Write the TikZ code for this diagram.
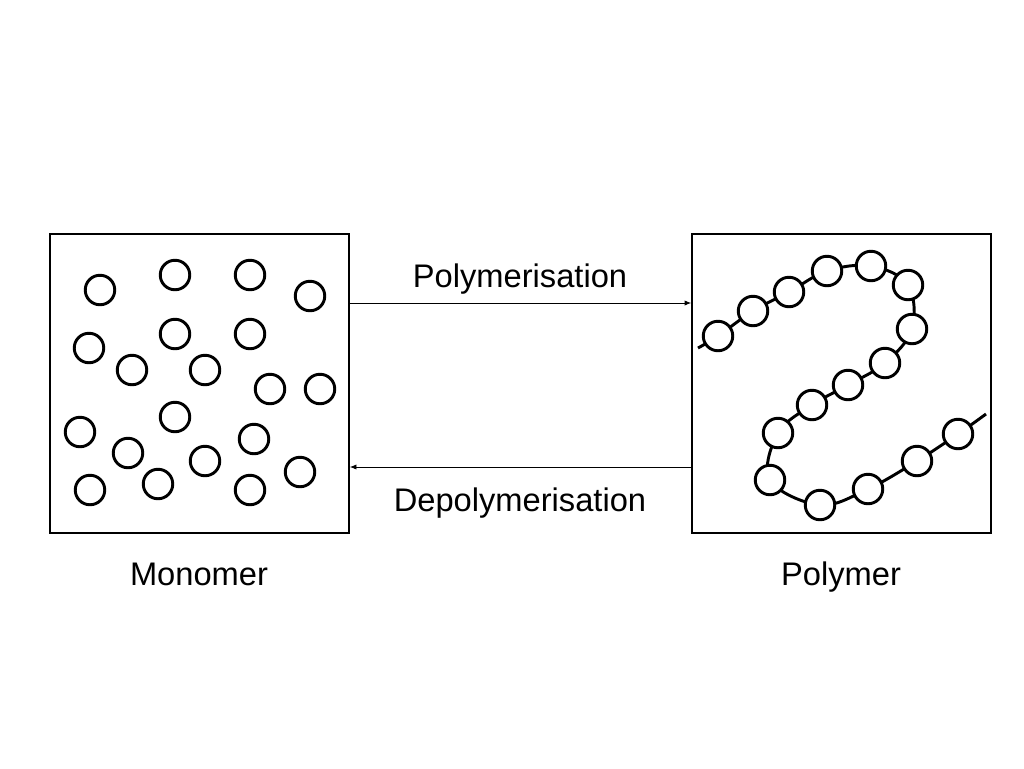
\documentclass[tikz,border=0pt]{standalone}
\usepackage{fontspec}
\setmainfont{Liberation Sans}
\usetikzlibrary{arrows.meta}
\begin{document}
\begin{tikzpicture}[x=0.75pt,y=-0.75pt,
  box/.style={draw,line width=1.2pt},
  mono/.style={draw,circle,line width=2.2pt,minimum size=29.5*0.75pt,inner sep=0pt,fill=white},
  lab/.style={font=\fontsize{24.5}{28}\selectfont,anchor=base},
  arr/.style={-{Latex[length=5pt,width=4pt]},line width=0.7pt}]
\useasboundingbox (0,0) rectangle (1024,768);
\node[box,minimum width=299*0.75pt,minimum height=299*0.75pt,inner sep=0pt] (L) at (199.5,383.5) {};
\node[box,minimum width=299*0.75pt,minimum height=299*0.75pt,inner sep=0pt] (R) at (841.5,383.5) {};
\coordinate (a1) at (L.east |- 0,303); \coordinate (a2) at (R.west |- 0,303);
\coordinate (b1) at (R.west |- 0,467); \coordinate (b2) at (L.east |- 0,467);
\draw[arr] (a1) -- (a2);
\draw[arr] (b1) -- (b2);
\node[lab] (p) at (520,287) {Polymerisation};
\node[lab] (d) at (520,511) {Depolymerisation};
\node[lab] (m) at (199,585) {Monomer};
\node[lab] (pm) at (841,585) {Polymer};
\foreach \x/\y [count=\i] in {100/290,175/275,250/275,310/296,89/348,175/334,250/334,132/370,205/370,270/389,320/389,80/432,175/417,128/453,254/439,205/461,158/484,90/490,250/490,300/472}
  \node[mono] (m\i) at (\x,\y) {};
\draw[line width=2.2pt] plot[smooth,tension=0.6] coordinates {(698,348)(718,336)(753,311)(789,292)(827,271)(871,266)(908,285)(912,329)(885,363)(848,385)(812,405)(778,433)(770,480)(820,505)(868,489)(917,461)(958,434)(986,414)};
\foreach \x/\y [count=\i] in {718/336,753/311,789/292,827/271,871/266,908/285,912/329,885/363,848/385,812/405,778/433,770/480,820/505,868/489,917/461,958/434}
  \node[mono] (c\i) at (\x,\y) {};
\end{tikzpicture}
\end{document}
